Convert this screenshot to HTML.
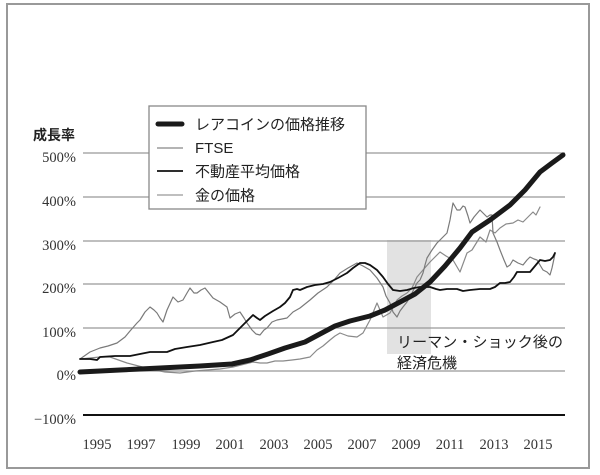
<!DOCTYPE html>
<html><head><meta charset="utf-8"><style>
html,body{margin:0;padding:0;background:#fff;}
svg{display:block;}
.yl{font-family:"Liberation Serif","Noto Serif CJK SC",serif;font-size:14.5px;fill:#333;}
.xl{font-family:"Liberation Serif",serif;font-size:14.5px;fill:#333;}
.lg{font-family:"Liberation Sans","Noto Sans CJK JP",sans-serif;font-size:15px;fill:#222;}
</style></head><body>
<svg width="600" height="475" viewBox="0 0 600 475" xmlns="http://www.w3.org/2000/svg">
<rect x="7" y="4" width="582" height="464" fill="#fff" stroke="#999" stroke-width="2"/>
<rect x="387" y="240" width="44" height="114" fill="#e2e2e2"/>
<g stroke="#999" stroke-width="1.2">
<line x1="83" y1="153" x2="565" y2="153"/>
<line x1="83" y1="197" x2="565" y2="197"/>
<line x1="83" y1="241" x2="565" y2="241"/>
<line x1="83" y1="284" x2="565" y2="284"/>
<line x1="83" y1="328" x2="565" y2="328"/>
<line x1="83" y1="371" x2="565" y2="371"/>
</g>
<line x1="83" y1="415" x2="565" y2="415" stroke="#111" stroke-width="2"/>
<text x="33" y="140" font-family="'Liberation Sans','Noto Sans CJK JP',sans-serif" font-size="14" font-weight="bold" fill="#222">成長率</text>
<g class="yl" text-anchor="end">
<text x="76" y="162">500%</text>
<text x="76" y="206">400%</text>
<text x="76" y="250">300%</text>
<text x="76" y="293">200%</text>
<text x="76" y="337">100%</text>
<text x="76" y="380">0%</text>
<text x="76" y="424">−100%</text>
</g>
<g class="xl" text-anchor="middle">
<text x="97" y="449">1995</text>
<text x="141" y="449">1997</text>
<text x="186" y="449">1999</text>
<text x="230" y="449">2001</text>
<text x="274" y="449">2003</text>
<text x="318" y="449">2005</text>
<text x="362" y="449">2007</text>
<text x="406" y="449">2009</text>
<text x="450" y="449">2011</text>
<text x="494" y="449">2013</text>
<text x="538" y="449">2015</text>
</g>
<g fill="none" stroke-linejoin="round" stroke-linecap="round">
<!-- Gold -->
<path stroke="#8a8a8a" stroke-width="1.2" d="M80,359 L100,357 L110,357 L127,363 L150,369 L165,372 L180,373 L195,371 L207,370 L220,369 L233,367 L245,364 L253,362 L260,363 L267,363 L275,361 L283,361 L292,360 L300,359 L310,357 L317,350 L323,346 L330,340 L335,336 L340,333 L348,336 L357,337 L363,333 L370,320 L377,303 L383,317 L390,313 L397,300 L402,296 L407,293 L412,288 L417,277 L423,270 L430,262 L440,252 L446,256 L453,260 L460,272 L467,253 L472,250 L480,237 L486,242 L490,230 L495,233 L500,228 L506,224 L513,223 L518,220 L523,222 L530,215 L533,212 L536,215 L540,207"/>
<!-- FTSE -->
<path stroke="#7a7a7a" stroke-width="1.2" d="M80,359 L90,352 L100,348 L108,346 L117,343 L125,337 L130,331 L137,323 L140,320 L145,312 L150,307 L154,310 L157,313 L160,318 L163,322 L167,310 L173,297 L178,302 L183,300 L187,293 L190,288 L194,293 L197,293 L201,290 L205,288 L209,293 L213,298 L220,302 L227,307 L230,318 L235,314 L240,312 L244,318 L247,323 L252,330 L256,334 L260,335 L264,330 L267,328 L272,322 L277,320 L282,319 L287,318 L293,312 L300,308 L305,304 L310,300 L318,293 L327,287 L334,280 L340,273 L348,268 L357,263 L363,266 L370,270 L377,278 L383,287 L386,296 L390,303 L393,312 L397,317 L400,311 L403,307 L407,302 L410,297 L414,289 L417,283 L420,280 L423,273 L425,265 L427,258 L432,250 L437,243 L442,238 L447,233 L450,220 L453,203 L457,210 L460,210 L463,206 L465,207 L468,216 L470,223 L474,217 L480,210 L484,214 L487,217 L490,215 L492,215 L493,233 L497,242 L500,250 L504,260 L507,267 L510,265 L513,260 L518,263 L523,265 L527,260 L530,257 L534,259 L537,260 L540,265 L543,270 L547,272 L550,275 L552,268 L555,254"/>
<!-- Real estate -->
<path stroke="#111" stroke-width="1.8" d="M80,359 L90,359 L97,360 L100,357 L115,356 L130,356 L140,354 L150,352 L160,352 L167,352 L175,349 L187,347 L200,345 L213,342 L222,340 L233,335 L238,330 L243,325 L248,320 L253,315 L257,318 L260,320 L265,316 L273,311 L280,307 L285,303 L290,297 L293,290 L297,289 L300,290 L307,287 L315,285 L323,284 L330,282 L338,278 L347,273 L353,268 L360,263 L365,263 L370,265 L377,270 L383,277 L388,284 L393,290 L400,291 L407,290 L414,288 L420,287 L425,287 L430,287 L436,289 L440,290 L447,289 L457,289 L463,291 L470,290 L480,289 L490,289 L495,287 L500,283 L505,283 L510,282 L514,277 L517,272 L523,272 L530,272 L535,266 L540,260 L545,261 L550,260 L553,257 L555,253"/>
<!-- Rare coin -->
<path stroke="#1a1a1a" stroke-width="5" d="M80,372 L120,370 L160,368 L200,366 L232,364 L250,360 L268,354 L285,348 L305,342 L320,334 L335,326 L350,321 L370,316 L385,310 L400,302 L415,294 L430,282 L445,266 L460,248 L472,232 L490,220 L510,205 L525,190 L540,172 L552,163 L563,155"/>
</g>
<rect x="149" y="106" width="217" height="103" fill="#fff" stroke="#888" stroke-width="1.3"/>
<line x1="158" y1="124" x2="182" y2="124" stroke="#1a1a1a" stroke-width="5" stroke-linecap="round"/>
<line x1="157" y1="148" x2="183" y2="148" stroke="#888" stroke-width="1.3"/>
<line x1="157" y1="171" x2="183" y2="171" stroke="#111" stroke-width="1.8"/>
<line x1="157" y1="195" x2="183" y2="195" stroke="#999" stroke-width="1.3"/>
<g class="lg">
<text x="195" y="129.5">レアコインの価格推移</text>
<text x="195" y="153">FTSE</text>
<text x="195" y="176.5">不動産平均価格</text>
<text x="195" y="200.5">金の価格</text>
</g>
<g class="lg" font-size="15">
<text x="397" y="347" letter-spacing="0.1">リーマン・ショック後の</text>
<text x="397" y="368">経済危機</text>
</g>
</svg>
</body></html>
